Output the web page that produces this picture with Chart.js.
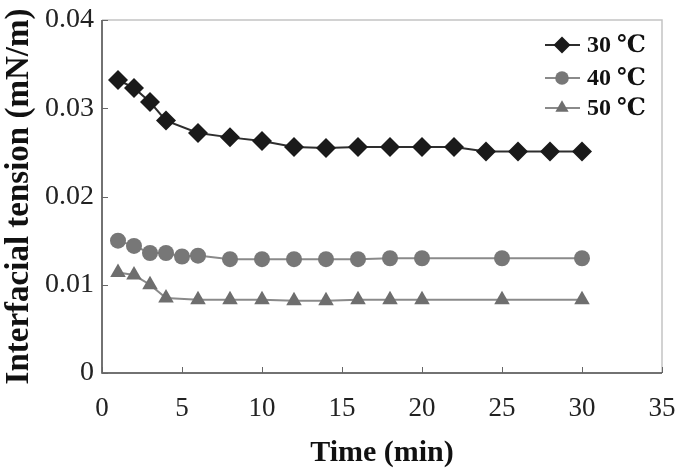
<!DOCTYPE html>
<html>
<head>
<meta charset="utf-8">
<script src="https://cdn.jsdelivr.net/npm/chart.js@4"></script>
<style>
  html, body { margin: 0; padding: 0; background: #fff; }
  #wrap { width: 679px; height: 471px; }
</style>
</head>
<body>
<div id="wrap"><canvas id="chart" width="679" height="471"></canvas></div>
<script>
// values
const time30 = [1, 2, 3, 4, 6, 8, 10, 12, 14, 16, 18, 20, 22, 24, 26, 28, 30];
const tension30 = [0.0332, 0.0323, 0.0307, 0.0286, 0.0272, 0.0267, 0.0263, 0.0256, 0.0255, 0.0256, 0.0256, 0.0256, 0.0256, 0.0251, 0.0251, 0.0251, 0.0251];
const time40 = [1, 2, 3, 4, 5, 6, 8, 10, 12, 14, 16, 18, 20, 25, 30];
const tension40 = [0.0150, 0.0144, 0.0136, 0.0136, 0.0132, 0.0133, 0.0129, 0.0129, 0.0129, 0.0129, 0.0129, 0.0130, 0.0130, 0.0130, 0.0130];
const time50 = [1, 2, 3, 4, 6, 8, 10, 12, 14, 16, 18, 20, 25, 30];
const tension50 = [0.0114, 0.0111, 0.0100, 0.0085, 0.0083, 0.0083, 0.0083, 0.0082, 0.0082, 0.0083, 0.0083, 0.0083, 0.0083, 0.0083];
const seriesLabels = ['30 ℃', '40 ℃', '50 ℃'];
const xTicks = [0, 5, 10, 15, 20, 25, 30, 35];
const yTicks = [0, 0.01, 0.02, 0.03, 0.04];

const serif = '"Liberation Serif", "DejaVu Serif", "Noto Sans CJK SC", serif';

function points(xs, ys) {
  return xs.map((t, i) => ({ x: t, y: ys[i] }));
}

// plot frame + inward tick marks
const frame = {
  id: 'frame',
  beforeDatasetsDraw(chart) {
    const { ctx, chartArea: a, scales: { x, y } } = chart;
    ctx.save();
    ctx.lineWidth = 1.5;
    ctx.strokeStyle = '#c4c4c4';
    ctx.beginPath();
    ctx.moveTo(a.left, a.top);
    ctx.lineTo(a.right, a.top);
    ctx.lineTo(a.right, a.bottom);
    ctx.stroke();
    ctx.strokeStyle = '#444';
    ctx.beginPath();
    ctx.moveTo(a.left, a.top);
    ctx.lineTo(a.left, a.bottom);
    ctx.lineTo(a.right, a.bottom);
    ctx.stroke();
    ctx.lineWidth = 1;
    ctx.strokeStyle = '#666';
    ctx.beginPath();
    yTicks.forEach(v => {
      const py = Math.round(y.getPixelForValue(v)) + 0.5;
      ctx.moveTo(a.left, py);
      ctx.lineTo(a.left + 6, py);
    });
    xTicks.forEach(v => {
      const px = Math.round(x.getPixelForValue(v)) + 0.5;
      ctx.moveTo(px, a.bottom);
      ctx.lineTo(px, a.bottom - 6);
    });
    ctx.stroke();
    ctx.restore();
  }
};

// legend with line + marker like the original
const lineLegend = {
  id: 'lineLegend',
  afterDatasetsDraw(chart) {
    const { ctx } = chart;
    const rows = [45, 78, 108];
    ctx.save();
    chart.data.datasets.forEach((ds, i) => {
      const yy = rows[i];
      ctx.strokeStyle = ds.borderColor;
      ctx.lineWidth = ds.borderWidth;
      ctx.beginPath();
      ctx.moveTo(545, yy);
      ctx.lineTo(580, yy);
      ctx.stroke();
      ctx.fillStyle = ds.pointBackgroundColor;
      ctx.strokeStyle = ds.pointBackgroundColor;
      Chart.helpers.drawPoint(ctx, {
        pointStyle: ds.pointStyle,
        radius: ds.pointRadius * 0.85,
        borderWidth: 0,
        rotation: 0
      }, 562, yy);
      ctx.fillStyle = '#111';
      ctx.font = 'bold 24px ' + serif;
      ctx.textBaseline = 'middle';
      ctx.textAlign = 'left';
      ctx.fillText(ds.label, 587, yy + 1);
    });
    ctx.restore();
  }
};

new Chart(document.getElementById('chart'), {
  type: 'line',
  data: {
    datasets: [
      {
        label: seriesLabels[0],
        data: points(time30, tension30),
        borderColor: '#2e2e2e',
        borderWidth: 2,
        pointStyle: 'rectRot',
        pointRadius: 10,
        pointBackgroundColor: '#1a1a1a',
        pointBorderWidth: 0
      },
      {
        label: seriesLabels[1],
        data: points(time40, tension40),
        borderColor: '#8a8a8a',
        borderWidth: 2,
        pointStyle: 'circle',
        pointRadius: 8,
        pointBackgroundColor: '#777777',
        pointBorderWidth: 0
      },
      {
        label: seriesLabels[2],
        data: points(time50, tension50),
        borderColor: '#8a8a8a',
        borderWidth: 2,
        pointStyle: 'triangle',
        pointRadius: 9,
        pointBackgroundColor: '#6e6e6e',
        pointBorderWidth: 0
      }
    ]
  },
  options: {
    responsive: false,
    animation: false,
    layout: { padding: { left: 0, top: 20, right: 17, bottom: 0 } },
    plugins: {
      legend: { display: false },
      tooltip: { enabled: false }
    },
    scales: {
      x: {
        type: 'linear',
        min: 0,
        max: 35,
        afterBuildTicks: s => { s.ticks = xTicks.map(v => ({ value: v })); },
        afterFit: s => { s.height = 98; s.paddingLeft = 0; s.paddingRight = 0; },
        grid: { display: false, drawTicks: false },
        border: { display: false },
        ticks: {
          padding: 20,
          color: '#222',
          font: { family: serif, size: 27 }
        },
        title: {
          display: true,
          text: 'Time (min)',
          color: '#111',
          padding: { top: 16, bottom: 0 },
          font: { family: serif, size: 30, weight: 'bold' }
        }
      },
      y: {
        type: 'linear',
        min: 0,
        max: 0.04,
        afterBuildTicks: s => { s.ticks = yTicks.map(v => ({ value: v })); },
        afterFit: s => { s.width = 102; s.paddingTop = 0; s.paddingBottom = 0; },
        grid: { display: false, drawTicks: false },
        border: { display: false },
        ticks: {
          padding: 8,
          color: '#222',
          font: { family: serif, size: 28 },
          callback: v => (v === 0 ? '0' : v.toFixed(2))
        },
        title: {
          display: true,
          text: 'Interfacial tension (mN/m)',
          color: '#111',
          padding: { top: 0, bottom: 2 },
          font: { family: serif, size: 33, weight: 'bold' }
        }
      }
    }
  },
  plugins: [frame, lineLegend]
});
</script>
</body>
</html>
